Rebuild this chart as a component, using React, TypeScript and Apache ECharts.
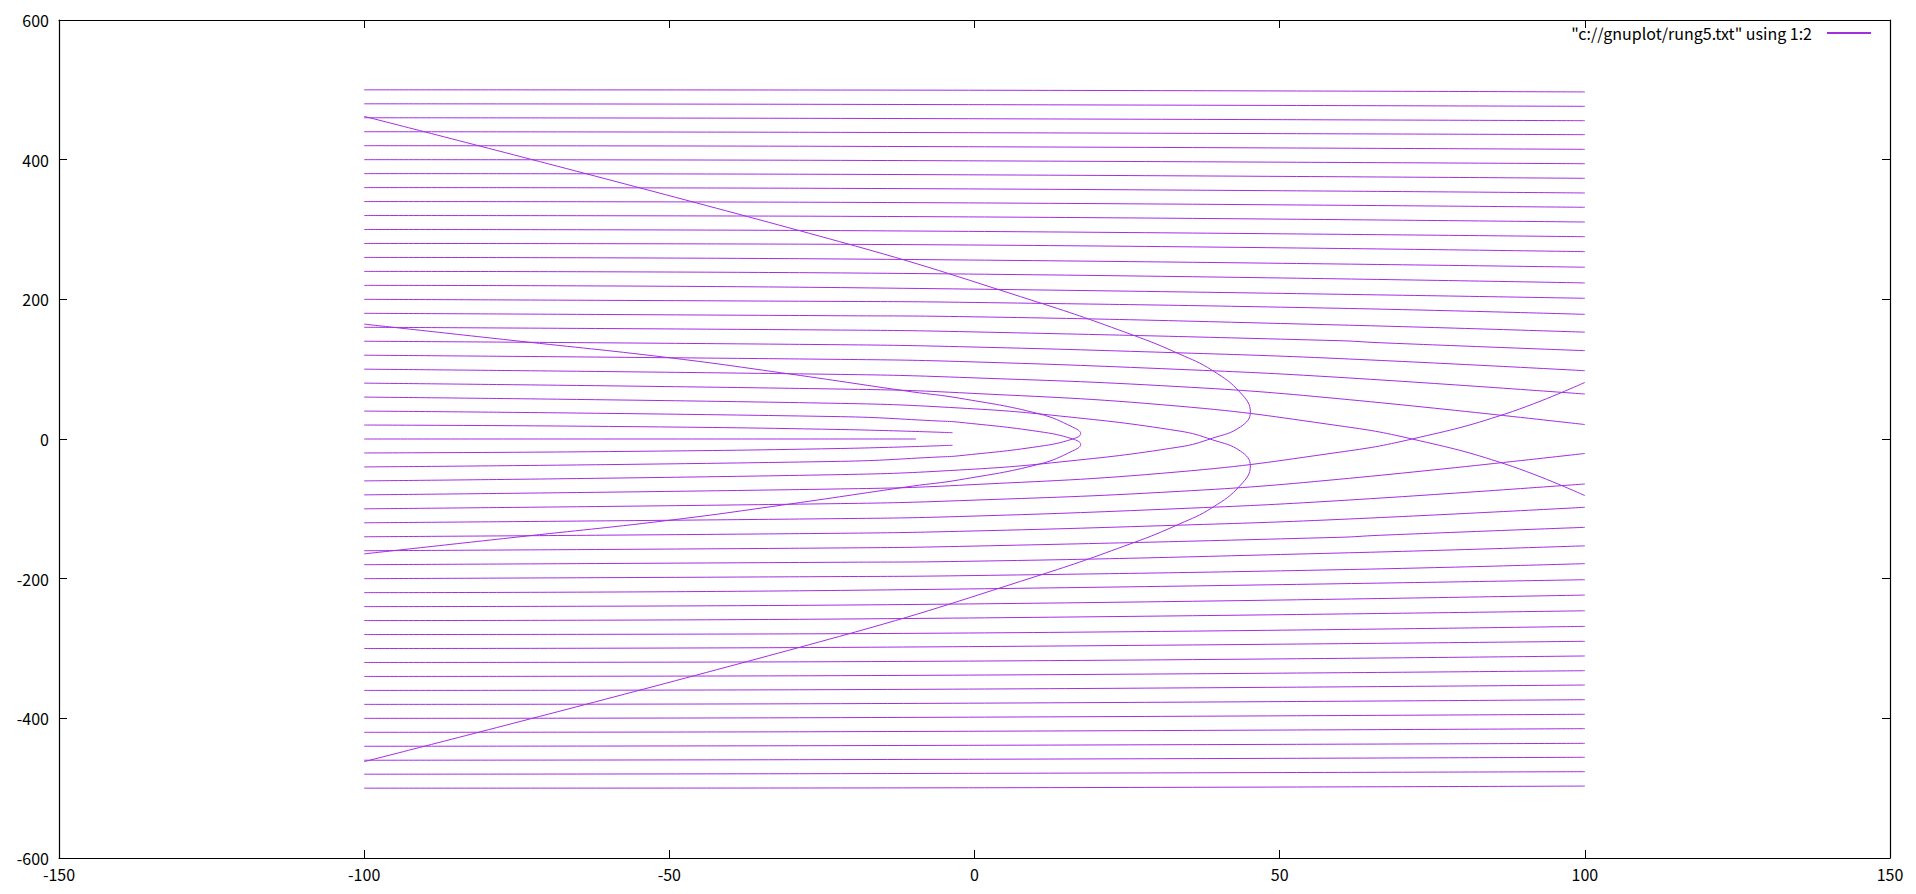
import React, { useEffect, useRef } from "react";
import * as echarts from "echarts";

const SERIES_NAME = '"c://gnuplot/rung5.txt" using 1:2';
const FONT = '"Noto Sans CJK JP", "Noto Sans", sans-serif';
const LINE_COLOR = "#a22ee2";

// Axis ranges / tick steps
const X_RANGE = [-150, 150];
const X_STEP = 50;
const Y_RANGE = [-600, 600];
const Y_STEP = 200;

// Far trajectories: start y at x=-100, y read at x=-22 and at x=100
const FAR_X = [-100, -22, 100];
const farStartUpper = [500, 480, 460, 440, 420, 400, 380, 360, 340, 320, 300, 280, 260, 240, 220];
const farMidUpper = [499.7, 479.2, 459.1, 439.1, 419.1, 399, 379, 358.9, 338.9, 318.9, 298.4, 278.8, 257.8, 237.8, 216.8];
const farEndUpper = [497, 476.4, 455.8, 435.8, 414.8, 394.2, 373.3, 352.3, 331.8, 310.7, 289.7, 268.3, 246, 223.5, 201.5];
const farStartLower = [-500, -480, -460, -440, -420, -400, -380, -360, -340, -320, -300, -280, -260, -240, -220];
const farMidLower = [-499.7, -479.2, -459.1, -439.1, -419.1, -399, -379, -358.9, -338.9, -318.9, -298.4, -278.8, -257.8, -237.8, -216.8];
const farEndLower = [-497, -476.4, -455.8, -435.8, -414.8, -394.2, -373.3, -352.3, -331.8, -310.7, -289.7, -268.3, -246, -223.5, -201.5];

// Near trajectories, [x, y] points
const trajP200 = [[-100, 200], [-22, 197], [-2.5, 195.8], [59.7, 187.2], [100, 178.5]];
const trajP180 = [[-100, 180], [-22, 176.5], [-2.5, 175.3], [59.7, 163.3], [100, 153]];
const trajP160 = [[-100, 160], [-22, 156], [-2.5, 153.8], [59.7, 140.8], [66.3, 137.9], [100, 126.5]];
const trajP140 = [[-100, 140], [-22, 135], [-2.5, 132.2], [33.5, 123.4], [59.7, 115.2], [100, 97.8]];
const trajP120 = [[-100, 120], [-22, 114], [-2.5, 111], [33.5, 99.7], [59.7, 88.3], [100, 64.4]];
const trajP100 = [[-100, 100], [-22, 92.5], [-2.5, 88.3], [33.5, 75], [59.7, 57.7], [100, 20.7]];
const trajP80 = [[-100, 80], [-22, 71.5], [-2.5, 66.3], [33.5, 47], [59.7, 19], [71.7, 0], [87, -36], [100, -81]];
const trajP60 = [[-100, 60], [-22, 51], [-2.5, 44.4], [13.9, 33], [33.5, 11.5], [39, -1.2], [43.6, -17.5], [45.2, -38.5], [43.6, -66], [39, -98], [33.5, -122], [25.9, -149], [10.1, -196.7], [-22.1, -282.6], [-100, -462]];
const trajP40 = [[-100, 40], [-22, 32], [-5.7, 25.7], [-2.5, 24], [10.6, 10.6], [16.1, 0], [17.4, -7.7], [16.1, -17], [10.6, -36], [-2.5, -58.5], [-10.2, -67.5], [-31.8, -95], [-50.6, -117], [-75, -140.5], [-100, -164.5]];
const trajP20 = [[-100, 20], [-60, 18], [-22, 13.6], [-3.6, 9]];
const traj0 = [[-100, 0], [-9.6, 0]];
const trajM20 = [[-100, -20], [-60, -18], [-22, -13.6], [-3.6, -9]];
const trajM40 = [[-100, -40], [-22, -32], [-5.7, -25.7], [-2.5, -24], [10.6, -10.6], [16.1, 0], [17.4, 7.7], [16.1, 17], [10.6, 36], [-2.5, 58.5], [-10.2, 67.5], [-31.8, 95], [-50.6, 117], [-75, 140.5], [-100, 164.5]];
const trajM60 = [[-100, -60], [-22, -51], [-2.5, -44.4], [13.9, -33], [33.5, -11.5], [39, 1.2], [43.6, 17.5], [45.2, 38.5], [43.6, 66], [39, 98], [33.5, 122], [25.9, 149], [10.1, 196.7], [-22.1, 282.6], [-100, 462]];
const trajM80 = [[-100, -80], [-22, -71.5], [-2.5, -66.3], [33.5, -47], [59.7, -19], [71.7, 0], [87, 36], [100, 81]];
const trajM100 = [[-100, -100], [-22, -92.5], [-2.5, -88.3], [33.5, -75], [59.7, -57.7], [100, -20.7]];
const trajM120 = [[-100, -120], [-22, -114], [-2.5, -111], [33.5, -99.7], [59.7, -88.3], [100, -64.4]];
const trajM140 = [[-100, -140], [-22, -135], [-2.5, -132.2], [33.5, -123.4], [59.7, -115.2], [100, -97.8]];
const trajM160 = [[-100, -160], [-22, -156], [-2.5, -153.8], [59.7, -140.8], [66.3, -137.9], [100, -126.5]];
const trajM180 = [[-100, -180], [-22, -176.5], [-2.5, -175.3], [59.7, -163.3], [100, -153]];
const trajM200 = [[-100, -200], [-22, -197], [-2.5, -195.8], [59.7, -187.2], [100, -178.5]];

const nearTrajectories = [
  trajP200, trajP180, trajP160, trajP140, trajP120, trajP100, trajP80, trajP60, trajP40, trajP20,
  traj0,
  trajM20, trajM40, trajM60, trajM80, trajM100, trajM120, trajM140, trajM160, trajM180, trajM200,
];

function buildTrajectories(): number[][][] {
  const out: number[][][] = [];
  const addFar = (s: number[], m: number[], e: number[]) => {
    for (let i = 0; i < s.length; i++) {
      out.push([[FAR_X[0], s[i]], [FAR_X[1], m[i]], [FAR_X[2], e[i]]]);
    }
  };
  addFar(farStartUpper, farMidUpper, farEndUpper);
  addFar(farStartLower, farMidLower, farEndLower);
  nearTrajectories.forEach((t) => out.push(t));
  return out;
}

export default function App() {
  const ref = useRef<HTMLDivElement>(null);

  useEffect(() => {
    if (!ref.current) return;
    const chart = echarts.init(ref.current, null, { renderer: "svg" });
    const trajectories = buildTrajectories();

    const axisCommon = {
      type: "value" as const,
      splitLine: { show: false },
      axisLine: { show: true, onZero: false, lineStyle: { color: "#000", width: 1.2 } },
      axisTick: { show: true, inside: true, length: 8, lineStyle: { color: "#000", width: 1 } },
    };

    const series = trajectories.map((pts) => ({
      type: "line",
      name: SERIES_NAME,
      data: pts,
      smooth: 0.45,
      symbol: "none",
      showSymbol: false,
      silent: true,
      lineStyle: { color: LINE_COLOR, width: 1 },
      itemStyle: { color: LINE_COLOR },
    }));

    chart.setOption({
      animation: false,
      backgroundColor: "#fff",
      grid: { left: 59, right: 26, top: 20, bottom: 36, containLabel: false },
      legend: {
        show: true,
        data: [{ name: SERIES_NAME, icon: "rect" }],
        right: 45,
        top: 25,
        padding: 0,
        align: "right",
        itemWidth: 44,
        itemHeight: 2,
        selectedMode: false,
        textStyle: { fontSize: 16, color: "#000", fontFamily: FONT, padding: [0, 10, 0, 0] },
      },
      xAxis: [
        {
          ...axisCommon,
          position: "bottom",
          min: X_RANGE[0],
          max: X_RANGE[1],
          interval: X_STEP,
          axisLabel: { color: "#000", fontSize: 16, fontFamily: FONT, margin: 8 },
        },
        {
          ...axisCommon,
          position: "top",
          min: X_RANGE[0],
          max: X_RANGE[1],
          interval: X_STEP,
          axisLabel: { show: false },
        },
      ],
      yAxis: [
        {
          ...axisCommon,
          position: "left",
          min: Y_RANGE[0],
          max: Y_RANGE[1],
          interval: Y_STEP,
          axisLabel: { color: "#000", fontSize: 16, fontFamily: FONT, margin: 10 },
        },
        {
          ...axisCommon,
          position: "right",
          min: Y_RANGE[0],
          max: Y_RANGE[1],
          interval: Y_STEP,
          axisLabel: { show: false },
        },
      ],
      series,
    });

    return () => chart.dispose();
  }, []);

  return (
    <div
      ref={ref}
      style={{ position: "fixed", left: 0, top: 0, width: 1916, height: 894, background: "#fff" }}
    />
  );
}
